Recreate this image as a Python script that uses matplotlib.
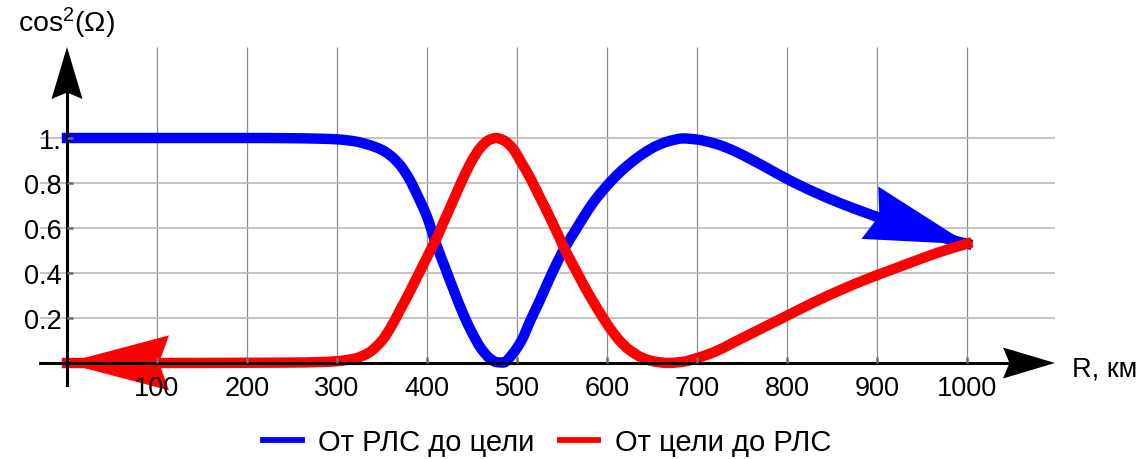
import numpy as np
import matplotlib
matplotlib.use("Agg")
import matplotlib.pyplot as plt
from matplotlib.patches import Polygon, PathPatch
from matplotlib.path import Path
from matplotlib.lines import Line2D
from matplotlib import transforms

plt.rcParams['font.family'] = ['Liberation Sans', 'DejaVu Sans']
plt.rcParams['mathtext.fontset'] = 'custom'
plt.rcParams['mathtext.rm'] = 'Liberation Sans'
plt.rcParams['mathtext.it'] = 'Liberation Sans:italic'

# Range, km
r_km = [0, 100, 200, 250, 280, 300, 320, 335, 350, 360, 370, 380, 390, 400,
        410, 420, 430, 440, 450, 460, 470, 477, 485, 495, 505, 515, 525, 535,
        545, 555, 565, 575, 585, 595, 605, 615, 625, 640, 655, 668, 685, 700,
        720, 740, 760, 780, 800, 830, 860, 890, 920, 950, 975, 1000]

# cos^2(Omega) along the path radar -> target
radar_to_target = [1.000, 1.000, 1.000, 0.999, 0.997, 0.994, 0.985, 0.970,
                   0.947, 0.920, 0.880, 0.820, 0.740, 0.650, 0.530, 0.425,
                   0.320, 0.220, 0.135, 0.065, 0.020, 0.004, 0.002, 0.040,
                   0.100, 0.190, 0.275, 0.365, 0.450, 0.525, 0.590, 0.655,
                   0.715, 0.765, 0.810, 0.850, 0.885, 0.930, 0.965, 0.985,
                   0.998, 0.993, 0.975, 0.945, 0.905, 0.862, 0.818, 0.760,
                   0.709, 0.664, 0.622, 0.584, 0.555, 0.530]

# cos^2(Omega) along the path target -> radar
target_to_radar = [0.000, 0.000, 0.001, 0.002, 0.004, 0.008, 0.020, 0.045,
                   0.100, 0.160, 0.235, 0.310, 0.390, 0.470, 0.550, 0.640,
                   0.730, 0.820, 0.900, 0.960, 0.993, 1.000, 0.990, 0.955,
                   0.890, 0.820, 0.740, 0.660, 0.575, 0.490, 0.415, 0.340,
                   0.270, 0.205, 0.145, 0.095, 0.058, 0.022, 0.005, 0.000,
                   0.006, 0.022, 0.050, 0.090, 0.130, 0.170, 0.210, 0.270,
                   0.325, 0.375, 0.420, 0.465, 0.500, 0.530]

x_ticks = [100, 200, 300, 400, 500, 600, 700, 800, 900, 1000]
x_tick_labels = [str(v) for v in x_ticks]
y_ticks = [0.2, 0.4, 0.6, 0.8, 1.0]
y_tick_labels = ['0.2', '0.4', '0.6', '0.8', '1.']

series_labels = ['От РЛС до цели', 'От цели до РЛС']
series_colors = ['#0000ff', '#ff0000']
x_label = 'R, км'
y_label = 'cos$^{\\mathregular{2}}$(Ω)'

X_MIN, X_MAX = -30, 1097.8
Y_MIN, Y_MAX = -0.0978, 1.4044
FS = 19.5

W, H, DPI = 1143, 460, 100
fig = plt.figure(figsize=(W / DPI, H / DPI), dpi=DPI)
ax = fig.add_axes([40 / W, 74 / H, 1015 / W, 338 / H])
ax.set_xlim(X_MIN, X_MAX)
ax.set_ylim(Y_MIN, Y_MAX)
ax.set_facecolor('white')

# grid
for v in x_ticks:
    ax.plot([v, v], [0, Y_MAX], color='#8e8e8e', lw=0.9, zorder=1,
            solid_capstyle='butt')
for v in y_ticks:
    ax.plot([X_MIN, X_MAX], [v, v], color='#b9b9b9', lw=1.2, zorder=1,
            solid_capstyle='butt')

# axes through the origin
for side in ('top', 'right'):
    ax.spines[side].set_visible(False)
ax.spines['left'].set_position(('data', 0))
ax.spines['bottom'].set_position(('data', 0))
for side in ('left', 'bottom'):
    ax.spines[side].set_linewidth(2.2)
    ax.spines[side].set_color('black')
    ax.spines[side].set_zorder(6)
ax.spines['bottom'].set_bounds(X_MIN, X_MAX - 40 / 0.9)
ax.spines['left'].set_bounds(Y_MIN, Y_MAX - 40 / 225)

ax.set_xticks(x_ticks, x_tick_labels)
ax.set_yticks(y_ticks, y_tick_labels)
ax.tick_params(direction='in', length=4.5, width=1.8, color='#6e6e6e',
               labelsize=FS, labelcolor='black')
ax.tick_params(axis='x', pad=8.5)
ax.tick_params(axis='y', pad=4.0)
ax.xaxis.set_zorder(7)
ax.yaxis.set_zorder(7)


def pchip_slopes(x, y):
    x = np.asarray(x, float)
    y = np.asarray(y, float)
    h = np.diff(x)
    d = np.diff(y) / h
    m = np.zeros_like(y)
    m[0], m[-1] = d[0], d[-1]
    for i in range(1, len(x) - 1):
        if d[i - 1] * d[i] <= 0:
            m[i] = 0.0
        else:
            w1 = 2 * h[i] + h[i - 1]
            w2 = h[i] + 2 * h[i - 1]
            m[i] = (w1 + w2) / (w1 / d[i - 1] + w2 / d[i])
    return m


def smooth_path(x, y):
    """Cubic Bezier path through every (x, y) sample with monotone tangents."""
    x = np.asarray(x, float)
    y = np.asarray(y, float)
    m = pchip_slopes(x, y)
    verts = [(x[0], y[0])]
    codes = [Path.MOVETO]
    for i in range(len(x) - 1):
        h = x[i + 1] - x[i]
        verts += [(x[i] + h / 3, y[i] + m[i] * h / 3),
                  (x[i + 1] - h / 3, y[i + 1] - m[i + 1] * h / 3),
                  (x[i + 1], y[i + 1])]
        codes += [Path.CURVE4] * 3
    return Path(verts, codes)


LW = 7.5
for ys, color, z in ((radar_to_target, series_colors[0], 3),
                     (target_to_radar, series_colors[1], 3.2)):
    ax.add_patch(PathPatch(smooth_path(r_km, ys), facecolor='none',
                           edgecolor=color, lw=LW, capstyle='projecting',
                           joinstyle='round', zorder=z))

ident = transforms.IdentityTransform()


def head_verts(tip, u, length, half_w, notch, extra=0.0):
    u = np.asarray(u, float)
    u = u / np.hypot(*u)
    n = np.array([-u[1], u[0]])
    tip = np.asarray(tip, float) + extra * u
    base = tip - length * u
    return [tip, base + half_w * n, tip - (length - notch) * u, base - half_w * n]


def curve_head(xs, ys, at_end, length=104, half_w=27.5, notch=10):
    pts = ax.transData.transform(np.column_stack([xs, ys]))
    if not at_end:
        pts = pts[::-1]
    tip = pts[-1]
    d = np.hypot(*(pts - tip).T)
    idx = np.nonzero(d >= length)[0][-1]
    return head_verts(tip, tip - pts[idx], length, half_w, notch, extra=2.0)


ax.add_patch(Polygon(curve_head(r_km, radar_to_target, True), closed=True,
                     transform=ident, facecolor=series_colors[0],
                     edgecolor='none', zorder=3.1, clip_on=False))
ax.add_patch(Polygon(curve_head(r_km, target_to_radar, False), closed=True,
                     transform=ident, facecolor=series_colors[1],
                     edgecolor='none', zorder=3.3, clip_on=False))

# axis arrowheads
x_tip = ax.transData.transform((X_MAX, 0))
y_tip = ax.transData.transform((0, Y_MAX))
for tip, u in ((x_tip, (1, 0)), (y_tip, (0, 1))):
    ax.add_patch(Polygon(head_verts(tip, u, 52, 15.5, 6.5), closed=True,
                         transform=ident, facecolor='black', edgecolor='none',
                         zorder=8, clip_on=False))

# axis titles
fig.text(67 / W, 1 - 32 / H, y_label, ha='center', va='baseline', fontsize=20.5)
fig.text(1072 / W, 1 - 377 / H, x_label, ha='left', va='baseline', fontsize=FS)

handles = [Line2D([], [], color=c, lw=4.2) for c in series_colors]
fig.legend(handles, series_labels, loc='center',
           bbox_to_anchor=(547 / W, 1 - 443 / H), ncol=2, frameon=False,
           fontsize=21, handlelength=1.32, handletextpad=0.55,
           columnspacing=0.89, borderpad=0, borderaxespad=0)

fig.savefig('out.png', dpi=DPI, facecolor='white')
